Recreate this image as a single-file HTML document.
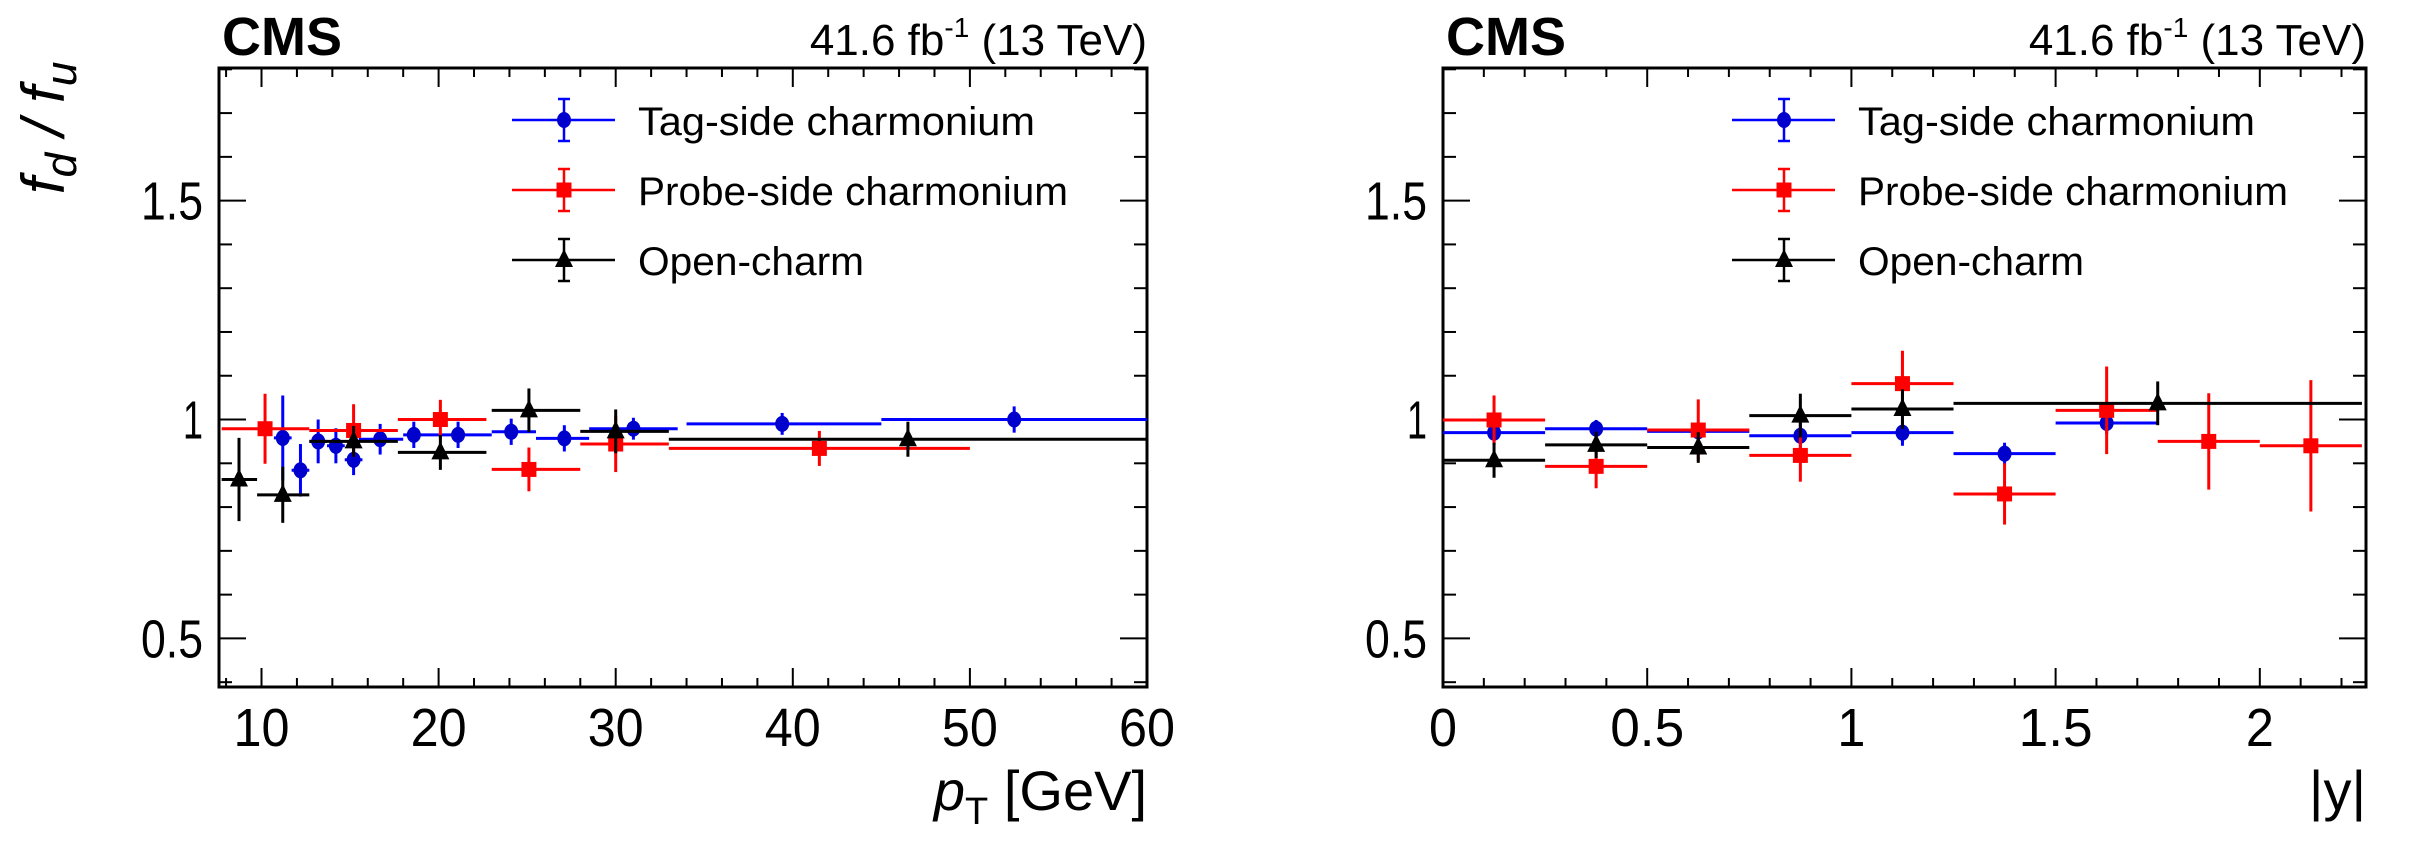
<!DOCTYPE html>
<html><head><meta charset="utf-8"><style>
html,body{margin:0;padding:0;background:#fff;}
svg{display:block;font-family:"Liberation Sans",sans-serif;}
</style></head><body>
<svg id="fig" width="2435" height="843" viewBox="0 0 2435 843" xmlns="http://www.w3.org/2000/svg"></svg>
<script>
// ---------- Left panel data (pT) ----------
const ptTagX=[11.2,12.2,13.2,14.2,15.2,16.7,18.6,21.1,24.1,27.1,31.0,39.4,52.5];
const ptTagLo=[10.7,11.7,12.7,13.7,14.7,15.5,18,20,23,25.5,28.5,34,45];
const ptTagHi=[11.7,12.7,13.7,14.7,15.7,18,20,23,25.5,28.5,33.5,45,60];
const ptTagY=[0.958,0.884,0.950,0.940,0.908,0.955,0.965,0.965,0.972,0.957,0.979,0.990,1.000];
const ptTagE=[0.097,0.06,0.05,0.04,0.035,0.035,0.03,0.03,0.03,0.03,0.025,0.025,0.03];

const ptProbeX=[10.2,15.2,20.1,25.1,30.0,41.5];
const ptProbeLo=[7.75,12.7,17.7,23,28,33];
const ptProbeHi=[12.7,17.7,22.7,28,33,50];
const ptProbeY=[0.979,0.975,1.000,0.886,0.944,0.934];
const ptProbeE=[0.08,0.06,0.045,0.05,0.064,0.04];

const ptOpenX=[8.73,11.2,15.2,20.1,25.1,30.0,46.5];
const ptOpenLo=[7.75,9.75,12.7,17.7,23,28,33];
const ptOpenHi=[9.75,12.7,17.7,22.7,28,33,60];
const ptOpenY=[0.863,0.828,0.950,0.925,1.021,0.973,0.955];
const ptOpenE=[0.095,0.064,0.035,0.04,0.05,0.05,0.04];

// ---------- Right panel data (|y|) ----------
const yTagX=[0.125,0.375,0.625,0.875,1.125,1.375,1.625];
const yTagW=[0.125,0.125,0.125,0.125,0.125,0.125,0.125];
const yTagY=[0.970,0.979,0.973,0.963,0.970,0.922,0.992];
const yTagE=[0.03,0.02,0.02,0.03,0.03,0.025,0.025];

const yProbeX=[0.125,0.375,0.625,0.875,1.125,1.375,1.625,1.875,2.125];
const yProbeW=[0.125,0.125,0.125,0.125,0.125,0.125,0.125,0.125,0.125];
const yProbeY=[0.999,0.893,0.976,0.918,1.082,0.830,1.021,0.950,0.940];
const yProbeE=[0.056,0.05,0.07,0.06,0.075,0.07,0.1,0.11,0.15];

const yOpenX=[0.125,0.375,0.625,0.875,1.125,1.75];
const yOpenW=[0.125,0.125,0.125,0.125,0.125,0.5];
const yOpenY=[0.907,0.942,0.936,1.009,1.024,1.037];
const yOpenE=[0.04,0.03,0.035,0.05,0.045,0.05];

const yTickVals=[0.5,1,1.5];
const yTickLabels=["0.5","1","1.5"];
const ptTickVals=[10,20,30,40,50,60];
const ptTickLabels=["10","20","30","40","50","60"];
const absyTickVals=[0,0.5,1,1.5,2];
const absyTickLabels=["0","0.5","1","1.5","2"];

const NS="http://www.w3.org/2000/svg";
const svg=document.getElementById('fig');
function mk(tag,attrs,parent){const e=document.createElementNS(NS,tag);for(const k in attrs)e.setAttribute(k,attrs[k]);(parent||svg).appendChild(e);return e;}

function panel(cfg){
  const g=mk('g',{});
  
  
  const L=cfg.L,R=cfg.R,T=68,B=687;
  const ymin=0.389,ymax=1.803;
  const sx=v=>L+(v-cfg.xmin)/(cfg.xmax-cfg.xmin)*(R-L);
  const sy=v=>T+(ymax-v)/(ymax-ymin)*(B-T);
  for(let i=4;i<=18;i++){const v=i/10;const y=sy(v);const maj=(i%5===0);const len=maj?27:13;
    mk('line',{x1:L,y1:y,x2:L+len,y2:y,stroke:'#000','stroke-width':2},g);
    mk('line',{x1:R,y1:y,x2:R-len,y2:y,stroke:'#000','stroke-width':2},g);}
  yTickVals.forEach((v,i)=>{const t=mk('text',{x:L-16,y:sy(v)+19,'font-size':54,'text-anchor':'end',textLength:yTickLabels[i].length>1?62:20,lengthAdjust:'spacingAndGlyphs'},g);t.textContent=yTickLabels[i];
    
    });
  for(let v=cfg.minorStart;v<=cfg.xmax+1e-9;v+=cfg.minor){const x=sx(v);const maj=Math.abs(v/cfg.major-Math.round(v/cfg.major))<1e-6;const len=maj?19:9;
    mk('line',{x1:x,y1:B,x2:x,y2:B-len,stroke:'#000','stroke-width':2},g);
    mk('line',{x1:x,y1:T,x2:x,y2:T+len,stroke:'#000','stroke-width':2},g);}
  cfg.tv.forEach((v,i)=>{const t=mk('text',{x:sx(v),y:746,'font-size':54,'text-anchor':'middle',textLength:cfg.tl[i].length*28+(cfg.tl[i].indexOf('.')>=0?-10:0),lengthAdjust:'spacingAndGlyphs'},g);t.textContent=cfg.tl[i];
    
    });
  const fr=mk('rect',{x:L,y:T,width:R-L,height:B-T,fill:'none',stroke:'#000','stroke-width':3},g);
  
  
  cfg.series.forEach(s=>{
    const sg=mk('g',{},g);
    
    
    s.x.forEach((xv,i)=>{
      const lo=s.lo?s.lo[i]:xv-s.w[i], hi=s.hi?s.hi[i]:xv+s.w[i];
      const cx=sx(xv),cy=sy(s.y[i]);
      mk('line',{x1:sx(lo),y1:cy,x2:sx(hi),y2:cy,stroke:s.color,'stroke-width':3},sg);
      mk('line',{x1:cx,y1:sy(s.y[i]+s.e[i]),x2:cx,y2:sy(s.y[i]-s.e[i]),stroke:s.color,'stroke-width':3},sg);
      marker(sg,s.shape,cx,cy,s.mcolor);
    });
  });
  const lx=cfg.legX;
  const rows=[["Tag-side charmonium",'#0000ff','#0000cc','circle',397],["Probe-side charmonium",'#ff0000','#ff0000','square',430],["Open-charm",'#000','#000','tri',226]];
  rows.forEach((r,i)=>{const y=[120,190,260][i];
    const lg=mk('g',{},g);
    
    
    mk('line',{x1:lx,y1:y,x2:lx+103,y2:y,stroke:r[1],'stroke-width':2.5},lg);
    mk('line',{x1:lx+52,y1:y-21,x2:lx+52,y2:y+21,stroke:r[1],'stroke-width':2.5},lg);
    mk('line',{x1:lx+46,y1:y-21,x2:lx+58,y2:y-21,stroke:r[1],'stroke-width':2.5},lg);
    mk('line',{x1:lx+46,y1:y+21,x2:lx+58,y2:y+21,stroke:r[1],'stroke-width':2.5},lg);
    marker(lg,r[3],lx+52,y,r[2]);
    const t=mk('text',{x:lx+126,y:y+15,'font-size':40,textLength:r[4],lengthAdjust:'spacingAndGlyphs'},lg);t.textContent=r[0];});
  const c=mk('text',{x:L+3,y:55,'font-size':54,'font-weight':'bold',textLength:120,lengthAdjust:'spacingAndGlyphs'},g);c.textContent='CMS';
  
  
  const lum=mk('text',{x:R,y:55,'font-size':44,'text-anchor':'end'},g);
  
  
  lum.innerHTML='41.6 fb<tspan dy="-18" font-size="28">-1</tspan><tspan dy="18"> (13 TeV)</tspan>';
  const yt=mk('text',{transform:'translate(64,194) rotate(-90)','font-size':60,'font-style':'italic','text-anchor':'start'},g);
  
  
  yt.innerHTML='f<tspan dy="12" font-size="44">d</tspan><tspan dy="-12"> / f</tspan><tspan dy="12" font-size="44">u</tspan>';
  const xt=mk('text',{x:R,y:810,'font-size':56,'text-anchor':'end'},g);
  
  
  xt.innerHTML=cfg.xtitle;
}
function marker(p,shape,cx,cy,col){
  if(shape==='circle')mk('ellipse',{cx:cx,cy:cy,rx:7,ry:8,fill:col},p);
  else if(shape==='square')mk('rect',{x:cx-7.5,y:cy-7.5,width:15,height:15,fill:col},p);
  else mk('polygon',{points:(cx)+','+(cy-11)+' '+(cx-9)+','+(cy+7)+' '+(cx+9)+','+(cy+7),fill:col},p);
}
panel({name:'pt-panel',L:219,R:1147,xmin:7.6,xmax:60,minorStart:8,minor:2,major:10,tv:ptTickVals,tl:ptTickLabels,legX:512,
  xtitle:'<tspan font-style="italic">p</tspan><tspan dy="14" font-size="38">T</tspan><tspan dy="-14"> [GeV]</tspan>',
  series:[
    {name:'tag-side-series',x:ptTagX,lo:ptTagLo,hi:ptTagHi,y:ptTagY,e:ptTagE,color:'#0000ff',mcolor:'#0000cc',shape:'circle'},
    {name:'probe-side-series',x:ptProbeX,lo:ptProbeLo,hi:ptProbeHi,y:ptProbeY,e:ptProbeE,color:'#ff0000',mcolor:'#ff0000',shape:'square'},
    {name:'open-charm-series',x:ptOpenX,lo:ptOpenLo,hi:ptOpenHi,y:ptOpenY,e:ptOpenE,color:'#000',mcolor:'#000',shape:'tri'}]});
panel({name:'rapidity-panel',L:1443,R:2366,xmin:0,xmax:2.26,minorStart:0,minor:0.1,major:0.5,tv:absyTickVals,tl:absyTickLabels,legX:1732,
  xtitle:'|y|',
  series:[
    {name:'tag-side-series',x:yTagX,w:yTagW,y:yTagY,e:yTagE,color:'#0000ff',mcolor:'#0000cc',shape:'circle'},
    {name:'probe-side-series',x:yProbeX,w:yProbeW,y:yProbeY,e:yProbeE,color:'#ff0000',mcolor:'#ff0000',shape:'square'},
    {name:'open-charm-series',x:yOpenX,w:yOpenW,y:yOpenY,e:yOpenE,color:'#000',mcolor:'#000',shape:'tri'}]});
</script>
</body></html>
